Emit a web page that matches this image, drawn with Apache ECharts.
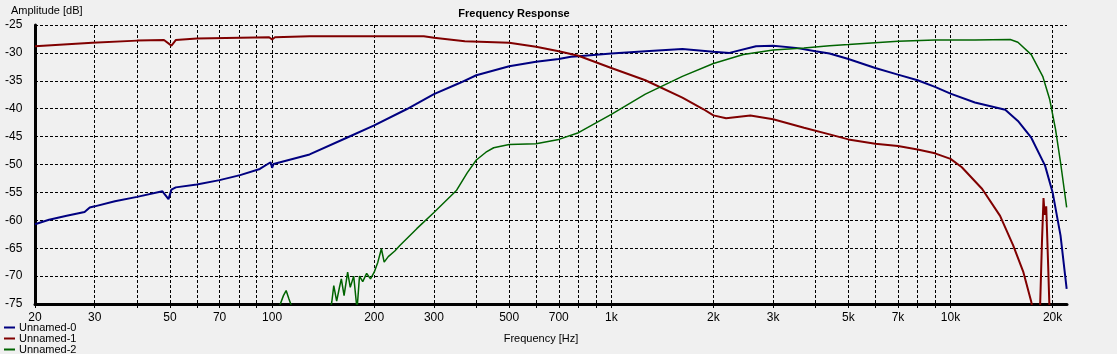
<!DOCTYPE html>
<html>
<head>
<meta charset="utf-8">
<script src="https://cdn.jsdelivr.net/npm/echarts@6/dist/echarts.min.js"></script>
<style>
  html, body { margin: 0; padding: 0; background: #f0f0f0; }
  #chart { width: 1117px; height: 354px; }
</style>
</head>
<body>
<div id="chart"></div>
<script>
// frequency response, three measurements (Hz / dB)
var freq0 = [20, 22, 24.8, 28, 29, 30, 34.4, 40, 47.5, 49.5, 50.5, 52, 60, 70, 80.5, 92, 99, 100, 101, 129, 166, 200, 249, 300, 357, 400, 500, 600, 700, 760, 800, 1000, 1260, 1620, 2000, 2230, 2670, 3000, 3500, 4000, 4400, 5000, 6000, 7000, 8000, 9000, 10000, 11800, 14500, 15800, 17300, 19000, 20000, 21100, 22000];
var amp0 = [-60.7, -59.9, -59.2, -58.5, -57.7, -57.5, -56.6, -55.8, -54.8, -56.2, -54.5, -54.1, -53.6, -52.8, -51.9, -50.8, -49.6, -50.6, -49.9, -48.2, -45.2, -43.0, -40.1, -37.4, -35.4, -34.0, -32.4, -31.6, -31.1, -30.7, -30.6, -30.1, -29.7, -29.3, -29.8, -30.0, -28.8, -28.7, -29.1, -29.7, -30.1, -31.1, -32.7, -33.9, -34.9, -36.1, -37.3, -38.9, -40.2, -42.2, -45.2, -50.2, -55.0, -62.7, -72.3];

var freq1 = [20, 29.5, 40, 48, 50.5, 52, 60, 98, 100, 102, 129, 280, 300, 370, 500, 600, 700, 800, 1000, 1260, 1620, 1870, 2000, 2180, 2570, 3000, 3700, 4400, 5000, 6000, 7000, 8000, 9000, 10000, 10800, 12400, 14000, 15300, 16400, 17300, 17800, 18300, 18600, 18800, 18950, 19150, 19400, 19650, 22000];
var amp1 = [-28.8, -28.2, -27.8, -27.7, -28.7, -27.7, -27.4, -27.2, -27.6, -27.2, -27.0, -27.0, -27.3, -27.9, -28.2, -28.9, -29.7, -30.5, -32.7, -34.9, -38.0, -40.1, -41.2, -41.7, -41.2, -41.9, -43.4, -44.6, -45.5, -46.3, -46.7, -47.3, -48.0, -49.0, -50.5, -54.4, -59.2, -64.5, -69.3, -74.6, -79, -79, -64, -56, -59, -57.5, -68, -79, -79];

var freq2 = [100, 105, 108, 110, 112, 115, 120, 145, 150, 152, 155, 158, 160, 163, 167, 170, 174, 178, 181, 185, 190, 195, 200, 205, 210, 214, 220, 230, 238, 267, 300, 350, 376, 400, 427, 450, 500, 600, 700, 800, 1000, 1260, 1620, 2000, 2450, 3000, 3700, 4400, 5000, 7000, 9000, 11800, 15000, 15800, 17300, 18700, 19600, 20400, 21100, 22000];
var amp2 = [-79, -75.5, -73.5, -72.6, -74, -76, -79, -79, -74.6, -71.7, -74.5, -72, -70.5, -73.5, -69.3, -72, -70, -76, -70, -71, -69.5, -70.5, -69.3, -67.5, -65.1, -67.5, -66.5, -65.5, -64.5, -61.5, -58.6, -54.6, -51.5, -49.2, -47.8, -47.0, -46.4, -46.3, -45.5, -44.3, -41.0, -37.4, -34.2, -31.9, -30.3, -29.5, -29.1, -28.7, -28.5, -27.9, -27.7, -27.7, -27.6, -28.1, -30.3, -34.2, -38.3, -43.7, -49.6, -57.7];

var seriesNames = ['Unnamed-0', 'Unnamed-1', 'Unnamed-2'];
var gridFreqs = [20, 30, 40, 50, 60, 70, 80, 90, 100, 200, 300, 400, 500, 600, 700, 800, 900, 1000, 2000, 3000, 4000, 5000, 6000, 7000, 8000, 9000, 10000, 20000];
var labelFreqs = [20, 30, 50, 70, 100, 200, 300, 500, 700, 1000, 2000, 3000, 5000, 7000, 10000, 20000];

function pairs(f, a) {
  return f.map(function(v, i) { return [v, a[i]]; });
}

var myChart = echarts.init(document.getElementById('chart'));
var font = 'Liberation Sans, Arial, sans-serif';

option = {
  backgroundColor: '#f0f0f0',
  animation: false,
  color: ['#000080', '#800000', '#006400'],
  title: {
    text: 'Frequency Response',
    left: 509,
    textAlign: 'center',
    top: 3,
    textStyle: { fontSize: 11, fontWeight: 'bold', color: '#000', fontFamily: font }
  },
  legend: {
    orient: 'vertical',
    left: 4,
    top: 322,
    height: 60,
    padding: 0,
    itemWidth: 11,
    itemHeight: 2,
    itemGap: 0,
    icon: 'rect',
    data: seriesNames,
    textStyle: { fontSize: 11, color: '#000', fontFamily: font, lineHeight: 11, padding: [0, 0, 0, -1] }
  },
  grid: { left: 35, right: 50, top: 25, bottom: 50 },
  xAxis: {
    type: 'log',
    min: 20,
    max: 22050,
    name: 'Frequency [Hz]',
    nameLocation: 'middle',
    nameGap: 29,
    nameTextStyle: { fontSize: 11, color: '#000', fontFamily: font, padding: [0, 20, 0, 0] },
    axisLine: { lineStyle: { color: '#000', width: 3 } },
    axisTick: { show: true, length: 5, customValues: gridFreqs, lineStyle: { color: '#000', type: 'dashed' } },
    axisLabel: {
      customValues: labelFreqs,
      margin: 8,
      fontSize: 12,
      color: '#000',
      fontFamily: font,
      formatter: function(v) { return v >= 1000 ? (v / 1000) + 'k' : String(v); }
    },
    splitLine: { show: true, lineStyle: { color: '#000', type: [3, 2], width: 1 } },
    minorTick: { show: false },
    minorSplitLine: { show: false }
  },
  yAxis: {
    type: 'value',
    min: -75,
    max: -25,
    interval: 5,
    name: 'Amplitude [dB]',
    nameLocation: 'end',
    nameGap: 9,
    nameTextStyle: { fontSize: 11, color: '#000', fontFamily: font, align: 'left', padding: [0, 0, 0, -24] },
    axisLine: { show: true, lineStyle: { color: '#000', width: 3 } },
    axisTick: { show: false },
    axisLabel: { margin: 14, fontSize: 12, color: '#000', fontFamily: font, align: 'left', padding: [0, 0, 0, -16] },
    splitLine: { show: true, lineStyle: { color: '#000', type: [3, 2], width: 1 } }
  },
  series: [{
    name: seriesNames[0],
    type: 'line',
    data: pairs(freq0, amp0),
    showSymbol: false,
    clip: true,
    lineStyle: { width: 2 }
  }, {
    name: seriesNames[1],
    type: 'line',
    data: pairs(freq1, amp1),
    showSymbol: false,
    clip: true,
    lineStyle: { width: 2 }
  }, {
    name: seriesNames[2],
    type: 'line',
    data: pairs(freq2, amp2),
    showSymbol: false,
    clip: true,
    lineStyle: { width: 1.5 }
  }]
};
myChart.setOption(option);
</script>
</body>
</html>
